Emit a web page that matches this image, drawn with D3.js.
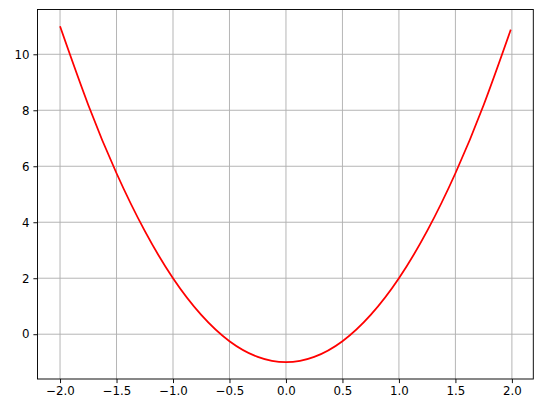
<!DOCTYPE html>
<html>
<head>
<meta charset="utf-8">
<script src="https://cdn.jsdelivr.net/npm/d3@7"></script>
<style>
  body { margin: 0; background: #fff; }
  text { font-family: "DejaVu Sans", sans-serif; }
</style>
</head>
<body>
<script>
// values
var xs = [-2.0, -1.75, -1.5, -1.25, -1.0, -0.75, -0.5, -0.25, 0.0, 0.25, 0.5, 0.75, 1.0, 1.25, 1.5, 1.75, 1.99];
var ys = [11.0, 8.19, 5.75, 3.69, 2.0, 0.69, -0.25, -0.81, -1.0, -0.81, -0.25, 0.69, 2.0, 3.69, 5.75, 8.19, 10.88];
var xTicks = [-2.0, -1.5, -1.0, -0.5, 0.0, 0.5, 1.0, 1.5, 2.0];
var yTicks = [0, 2, 4, 6, 8, 10];

var width = 543, height = 413;
var margin = {top: 9.5, right: 9.7, bottom: 34, left: 37.5};
var w = width - margin.left - margin.right;
var h = height - margin.top - margin.bottom;

var svg = d3.select("body").append("svg")
    .attr("width", width)
    .attr("height", height);

var g = svg.append("g")
    .attr("transform", "translate(" + margin.left + "," + margin.top + ")");

var x = d3.scaleLinear().domain([-2.1995, 2.1895]).range([0, w]);
var y = d3.scaleLinear().domain([-1.6, 11.6]).range([h, 0]);

var fmt = function(d) { return d3.format(".1f")(d).replace("-", "\u2212"); };

// grid
g.selectAll(".gx").data(xTicks).enter().append("line")
    .attr("x1", d => x(d)).attr("x2", d => x(d))
    .attr("y1", 0).attr("y2", h)
    .attr("stroke", "#b0b0b0").attr("stroke-width", 0.94);
g.selectAll(".gy").data(yTicks).enter().append("line")
    .attr("x1", 0).attr("x2", w)
    .attr("y1", d => y(d)).attr("y2", d => y(d))
    .attr("stroke", "#b0b0b0").attr("stroke-width", 0.94);

// curve
var pts = xs.map((d, i) => [d, ys[i]]);
var line = d3.line()
    .x(d => x(d[0]))
    .y(d => y(d[1]))
    .curve(d3.curveNatural);

g.append("path")
    .datum(pts)
    .attr("fill", "none")
    .attr("stroke", "red")
    .attr("stroke-width", 1.77)
    .attr("d", line);

// axes
var bottomAxis = d3.axisBottom(x).tickValues(xTicks).tickFormat(fmt).tickSize(4.1).tickPadding(4);
var xg = g.append("g")
    .attr("transform", "translate(0," + h + ")")
    .call(bottomAxis);

var leftAxis = d3.axisLeft(y).tickValues(yTicks).tickFormat(d3.format("d")).tickSize(4.1).tickPadding(4);
var yg = g.append("g").call(leftAxis);

[xg, yg].forEach(function(a) {
    a.select(".domain").remove();
    a.selectAll("line").attr("stroke", "#000").attr("stroke-width", 0.94);
    a.selectAll("text").attr("font-size", "11.8px").attr("fill", "#000")
        .attr("font-family", "DejaVu Sans, sans-serif");
});

// frame
g.append("rect")
    .attr("width", w).attr("height", h)
    .attr("fill", "none")
    .attr("stroke", "#000")
    .attr("stroke-width", 0.94);
</script>
</body>
</html>
